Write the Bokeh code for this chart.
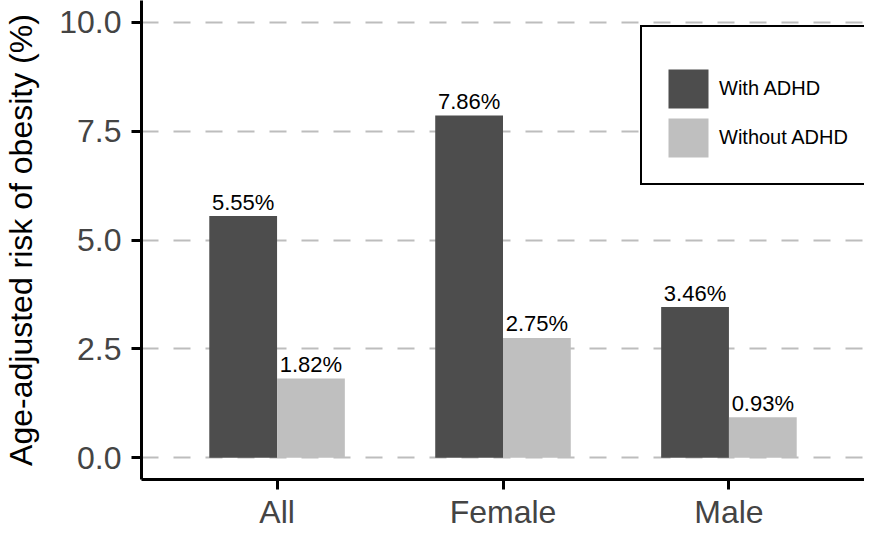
from bokeh.plotting import figure
from bokeh.models import FactorRange, FixedTicker, NumeralTickFormatter, ColumnDataSource, Range1d
from bokeh.transform import dodge
from bokeh.embed import file_html
from bokeh.resources import INLINE
from bokeh.core.properties import value

categories = ["All", "Female", "Male"]
with_adhd = [5.55, 7.86, 3.46]
without_adhd = [1.82, 2.75, 0.93]
series_names = ["With ADHD", "Without ADHD"]
y_ticks = [0, 2.5, 5, 7.5, 10]
y_title = "Age-adjusted risk of obesity (%)"

FONT = "Liberation Sans"
DARK = "#4d4d4d"
LIGHT = "#bfbfbf"

src = ColumnDataSource(dict(
    cat=categories,
    with_adhd=with_adhd,
    without_adhd=without_adhd,
    with_lbl=[f"{v:.2f}%" for v in with_adhd],
    without_lbl=[f"{v:.2f}%" for v in without_adhd],
))

p = figure(
    x_range=FactorRange(*categories, range_padding=0.2 / 3),
    y_range=Range1d(-0.5, 10.5),
    width=864, height=532,
    output_backend="svg", toolbar_location=None,
    min_border_left=135, min_border_right=0, min_border_top=0, min_border_bottom=40,
)
p.background_fill_color = "white"
p.border_fill_color = "white"
p.outline_line_color = None

p.vbar(x=dodge("cat", -0.15, range=p.x_range), top="with_adhd", width=0.3, source=src,
       fill_color=DARK, line_color=None, legend_label=series_names[0])
p.vbar(x=dodge("cat", 0.15, range=p.x_range), top="without_adhd", width=0.3, source=src,
       fill_color=LIGHT, line_color=None, legend_label=series_names[1])

p.text(x=dodge("cat", -0.15, range=p.x_range), y="with_adhd", text="with_lbl", source=src,
       text_align="center", text_baseline="alphabetic", y_offset=-14,
       text_font=value(FONT), text_font_size="22px", text_color="black")
p.text(x=dodge("cat", 0.15, range=p.x_range), y="without_adhd", text="without_lbl", source=src,
       text_align="center", text_baseline="alphabetic", y_offset=-14,
       text_font=value(FONT), text_font_size="22px", text_color="black")

# axes
p.yaxis.ticker = FixedTicker(ticks=y_ticks)
p.yaxis.formatter = NumeralTickFormatter(format="0.0")
p.yaxis.axis_label = y_title
p.yaxis.axis_label_text_font = FONT
p.yaxis.axis_label_text_font_size = "32px"
p.yaxis.axis_label_text_font_style = "normal"
p.yaxis.axis_label_text_color = "black"
p.yaxis.axis_label_standoff = 17
p.yaxis.major_label_standoff = 10
p.xaxis.major_label_standoff = 4
p.xaxis.axis_label_standoff = 0
p.xaxis.major_label_text_line_height = 1.0

for ax in (p.xaxis, p.yaxis):
    ax.major_label_text_font = FONT
    ax.major_label_text_font_size = "32px"
    ax.major_label_text_color = "#444444"
    ax.axis_line_color = "black"
    ax.axis_line_width = 3
    ax.major_tick_line_color = "black"
    ax.major_tick_line_width = 3
    ax.major_tick_out = 10
    ax.major_tick_in = 0
    ax.minor_tick_line_color = None

# grid
p.xgrid.visible = False
p.ygrid.ticker = FixedTicker(ticks=y_ticks)
p.ygrid.grid_line_color = "#bdbdbd"
p.ygrid.grid_line_width = 1.8
p.ygrid.grid_line_dash = "17 15"

# legend
leg = p.legend[0]
leg.location = (499, 294)
leg.glyph_width = 50
leg.glyph_height = 49
leg.padding = 21
leg.spacing = 0
leg.label_standoff = 6
leg.label_text_font = FONT
leg.label_text_font_size = "20px"
leg.label_text_color = "black"
leg.border_line_color = "black"
leg.border_line_alpha = 1.0
leg.border_line_width = 2.7
leg.background_fill_color = "white"
leg.background_fill_alpha = 1
leg.title = " "
leg.title_text_font_size = "12px"
leg.title_standoff = 2

open("out.html", "w").write(file_html(p, INLINE))
